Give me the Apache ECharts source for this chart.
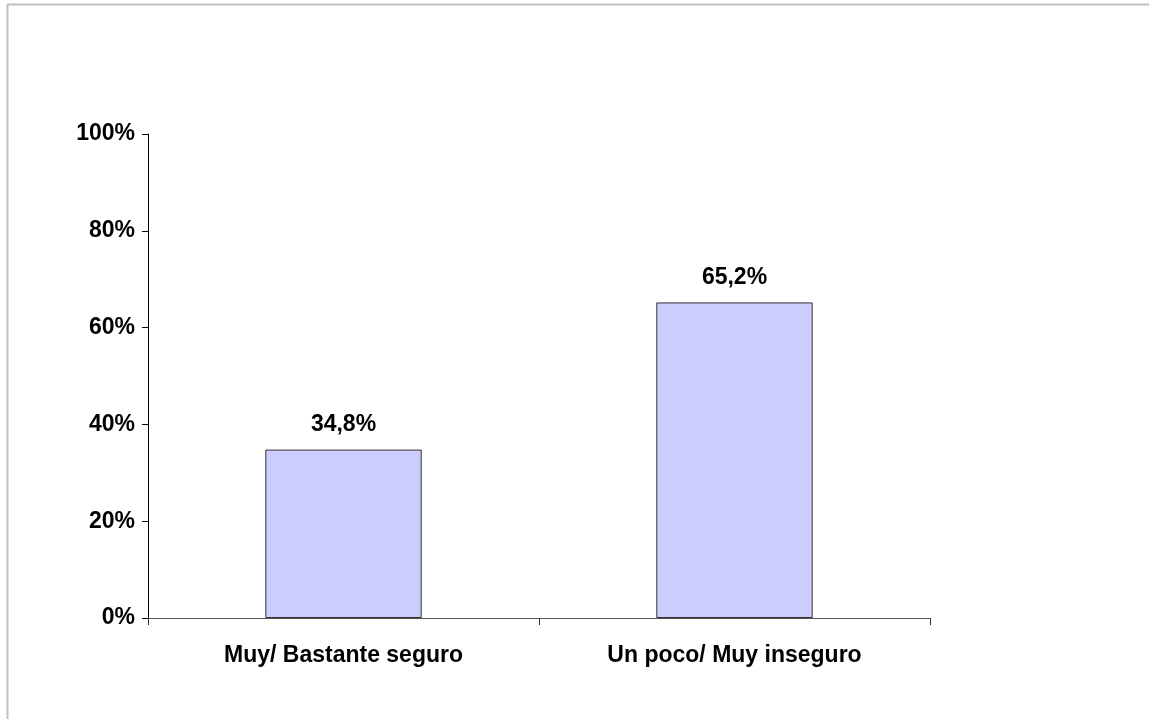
<!DOCTYPE html>
<html><head><meta charset="utf-8">
<script src="https://cdn.jsdelivr.net/npm/echarts@6/dist/echarts.min.js"></script>
<style>html,body{margin:0;padding:0;background:#fff}#c{width:1149px;height:719px}</style>
</head><body><div id="c"></div>
<script>
const categories = ['Muy/ Bastante seguro', 'Un poco/ Muy inseguro'];
const values = [34.8, 65.2];
const yTicks = [0, 20, 40, 60, 80, 100];

const chart = echarts.init(document.getElementById('c'));
const font = 'Liberation Sans, Arial, sans-serif';
chart.setOption({
  animation: false,
  grid: { left: 148, right: 219, top: 134, bottom: 101 },
  graphic: [
    { type: 'line', shape: { x1: 7, y1: 4.5, x2: 1149, y2: 4.5 }, style: { stroke: '#c0c0c0', lineWidth: 2 } },
    { type: 'line', shape: { x1: 7.5, y1: 4, x2: 7.5, y2: 719 }, style: { stroke: '#c0c0c0', lineWidth: 2 } }
  ],
  xAxis: {
    type: 'category', data: categories,
    axisLine: { lineStyle: { color: '#555', width: 1 } },
    axisTick: { show: true, length: 7, inside: false, lineStyle: { color: '#333' } },
    axisLabel: { color: '#000', fontFamily: font, fontWeight: 'bold', fontSize: 23, margin: 26 }
  },
  yAxis: {
    type: 'value', min: 0, max: 100, interval: 20,
    splitLine: { show: false },
    axisLine: { show: true, lineStyle: { color: '#000', width: 1 } },
    axisTick: { show: true, length: 6, lineStyle: { color: '#000' } },
    axisLabel: { color: '#000', fontFamily: font, fontWeight: 'bold', fontSize: 23, margin: 13,
      padding: [4, 0, 0, 0],
      formatter: v => yTicks.includes(v) ? v + '%' : '' }
  },
  series: [{
    type: 'bar', data: values, barWidth: '40%',
    itemStyle: { color: '#ccccff', borderColor: '#333', borderWidth: 1 },
    label: { show: true, position: 'top', distance: 13, color: '#000', fontFamily: font, fontWeight: 'bold', fontSize: 23,
      formatter: p => p.value.toFixed(1).replace('.', ',') + '%' }
  }]
});
</script></body></html>
